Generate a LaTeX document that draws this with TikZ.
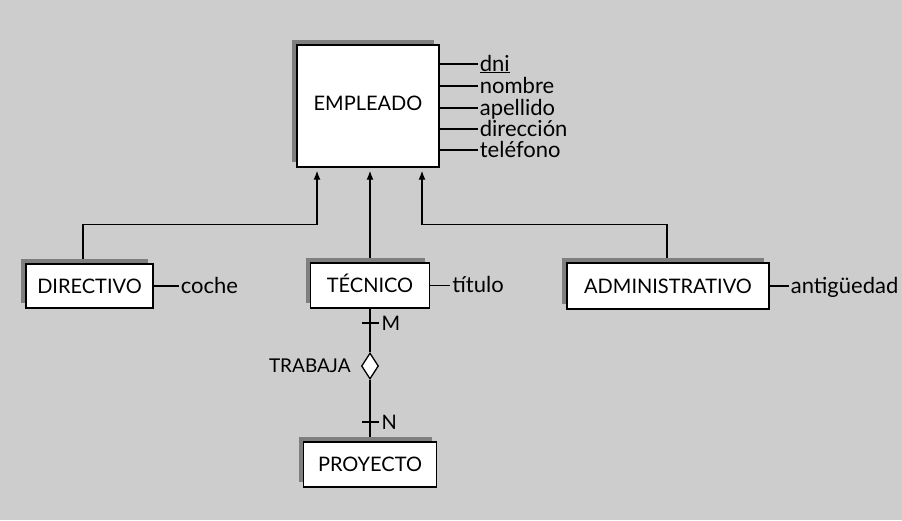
\documentclass[tikz,border=0pt]{standalone}
\usepackage{fontspec}
\setmainfont{Lato}
\usetikzlibrary{shapes.geometric,shadows,arrows.meta}
\pgfdeclarelayer{back}
\pgfdeclarelayer{bg}
\pgfsetlayers{back,bg,main}
\definecolor{bgc}{HTML}{CDCDCD}
\definecolor{shd}{HTML}{7F7F7F}
\begin{document}
\begin{tikzpicture}[x=1pt,y=-1pt,
  font=\fontsize{20}{22}\selectfont,
  ent/.style={draw=black, line width=1.4pt, fill=white, inner sep=0pt,
    text height=14pt, text depth=0pt,
    general shadow={fill=shd, shadow xshift=-5pt, shadow yshift=5pt}},
  conn/.style={line width=1.3pt, black},
  arr/.style={conn, -{Latex[length=9pt,width=7pt]}, shorten >=3pt},
  attr/.style={anchor=west, inner sep=1.5pt, text height=18pt, text depth=4pt,
    font=\fontsize{22}{24}\selectfont},
  card/.style={anchor=west, inner sep=2pt, text height=14pt, text depth=0pt},
  rel/.style={diamond, draw=black, line width=1.3pt, fill=white, inner sep=0pt,
    minimum width=17pt, minimum height=26pt}]
\begin{pgfonlayer}{back}
\fill[bgc] (0,0) rectangle (902,520);
\end{pgfonlayer}
\useasboundingbox (0,0) rectangle (902,520);

\node[ent, minimum width=142pt, minimum height=122pt, text depth=6pt] (E) at (368,106) {EMPLEADO};
\node[ent, minimum width=127pt, minimum height=44pt] (D) at (89.5,286) {DIRECTIVO};
\node[ent, minimum width=119pt, minimum height=45pt] (T) at (370,285.5) {TÉCNICO};
\node[ent, minimum width=202pt, minimum height=46pt] (A) at (668,286) {ADMINISTRATIVO};
\node[ent, minimum width=133pt, minimum height=45pt] (P) at (370,464.5) {PROYECTO};
\node[rel] (R) at (370,366) {};
\node[anchor=east, inner sep=1pt, text height=13pt, text depth=0pt,
  font=\fontsize{19}{21}\selectfont] (Rl) at ([xshift=-9pt]R.west) {TRABAJA};

\begin{pgfonlayer}{bg}
  \draw[arr] ([xshift=-6.5pt]D.north) -- ++(0,-39) -| ([xshift=-51pt]E.south);
  \draw[arr] (T.north) -- (E.south -| T.north);
  \draw[arr] ([xshift=-1pt]A.north) -- ++(0,-38) -| ([xshift=54pt]E.south);
  \draw[conn] (T.south) -- (R.north);
  \draw[conn] (R.south) -- (P.north);
\end{pgfonlayer}

% attributes of EMPLEADO
\draw[conn] ([yshift=42pt]E.east) -- ++(38,0) node[attr] (a1) {\underline{dni}};
\draw[conn] ([yshift=20pt]E.east) -- ++(38,0) node[attr] (a2) {nombre};
\draw[conn] ([yshift=-2pt]E.east) -- ++(38,0) node[attr] (a3) {apellido};
\draw[conn] ([yshift=-23pt]E.east) -- ++(38,0) node[attr] (a4) {dirección};
\draw[conn] ([yshift=-44pt]E.east) -- ++(38,0) node[attr] (a5) {teléfono};

\draw[conn] (D.east) -- ++(25,0) node[attr] (b1) {coche};
\draw[conn] (T.east) -- ++(20,0) node[attr] (b2) {título};
\draw[conn] (A.east) -- ++(19,0) node[attr] (b3) {antigüedad};

% cardinalities
\draw[conn] ([xshift=-8pt]T.south |- 0,323) -- ([xshift=9pt]T.south |- 0,323) node[card] (cm) {M};
\draw[conn] ([xshift=-8pt]P.north |- 0,422) -- ([xshift=9pt]P.north |- 0,422) node[card] (cn) {N};
\end{tikzpicture}
\end{document}
